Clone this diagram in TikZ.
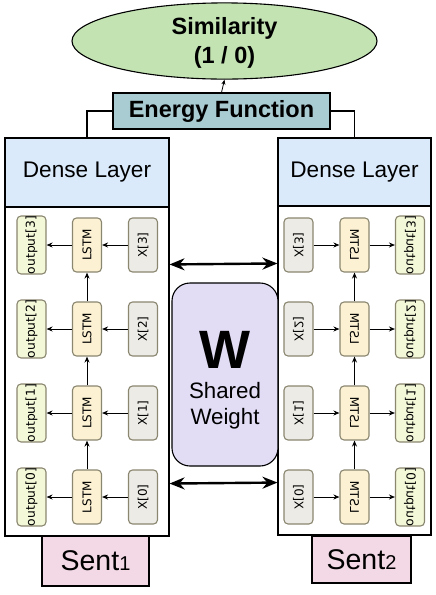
\documentclass[tikz,border=0pt]{standalone}
\usepackage{fontspec}
\setmainfont{Liberation Sans}
\newfontfamily\cellfont{DejaVu Sans}
\usetikzlibrary{arrows.meta,shapes.geometric}
\definecolor{simgreen}{HTML}{C3E3B3}
\definecolor{energyblue}{HTML}{A9CCD3}
\definecolor{denseblue}{HTML}{DAEAFB}
\definecolor{sentpink}{HTML}{F3D9E6}
\definecolor{sharedlilac}{HTML}{E2DCF5}
\definecolor{outfill}{HTML}{F3F8D8}
\definecolor{lstmfill}{HTML}{FCF1D3}
\definecolor{xfill}{HTML}{ECEBE5}
\definecolor{cellline}{HTML}{8A8670}
\tikzset{
	box/.style={draw=black, line width=1.1pt, inner sep=0pt},
	cell/.style={draw=cellline, line width=1.1pt, rounded corners=4pt, rotate=90,
		minimum width=54pt, minimum height=29pt, inner sep=0pt},
	outcell/.style={cell, fill=outfill, font=\cellfont\fontsize{12.3}{14}\selectfont},
	lstmcell/.style={cell, fill=lstmfill, font=\cellfont\fontsize{12}{14}\selectfont},
	xcell/.style={cell, fill=xfill, font=\cellfont\fontsize{12}{14}\selectfont},
	flow/.style={line width=1pt, -{Stealth[length=6pt,width=5pt]}},
	wide/.style={line width=2.4pt, {Stealth[length=15pt,width=12pt]}-{Stealth[length=15pt,width=12pt]}}
}
% one column of four unrolled LSTM steps, centred on x=0
\newcommand{\lstmstack}[1]{%
	\foreach \i in {0,...,3}{
		\node[outcell] (#1out\i) at (-55.5,497-84*\i) {output[\i]};
		\node[lstmcell] (#1lstm\i) at (0,497-84*\i) {LSTM};
		\node[xcell] (#1x\i) at (56,497-84*\i) {X[\i]};
		\draw[flow] (#1x\i) -- (#1lstm\i);
		\draw[flow] (#1lstm\i) -- (#1out\i);
	}
	\foreach \i/\j in {0/1,1/2,2/3}
		\draw[flow] (#1lstm\i) -- (#1lstm\j);
}
\begin{document}
\begin{tikzpicture}[x=1pt, y=-1pt]
	\useasboundingbox (0,0) rectangle (436,595);
	\node[ellipse, draw=black, line width=1.1pt, fill=simgreen, minimum width=305pt, minimum height=72pt, inner sep=0pt, align=center, font=\bfseries\fontsize{23.5}{29}\selectfont] (sim) at (224.5,41) {\rule{0pt}{20pt}Similarity\\(1 / 0)};
	\node[box, fill=energyblue, minimum width=217pt, minimum height=36pt, font=\bfseries\fontsize{23.5}{28}\selectfont] (energy) at (221.5,111) {Energy Function};
	\draw[line width=0.8pt, -{Stealth[length=5pt,width=4pt]}] (energy.north) -- (sim.south);

	% left branch
	\node[box, fill=denseblue, minimum width=164pt, minimum height=69pt, font=\fontsize{22.6}{26}\selectfont] (dense1) at (87,172.5) {Dense Layer};
	\node[box, minimum width=164pt, minimum height=329pt] (panel1) at (87,371.5) {};
	\node[box, fill=sentpink, minimum width=107pt, minimum height=50pt, font=\fontsize{28.5}{32}\selectfont] (sent1) at (95.5,561) {Sent{\fontsize{20}{24}\selectfont 1}};
	\begin{scope}[shift={(87,0)}]
		\lstmstack{l}
	\end{scope}

	% right branch, mirrored
	\node[box, fill=denseblue, minimum width=153pt, minimum height=68pt, font=\fontsize{22.6}{26}\selectfont] (dense2) at (354.5,172) {Dense Layer};
	\node[box, minimum width=153pt, minimum height=329pt] (panel2) at (354.5,370.5) {};
	\node[box, fill=sentpink, minimum width=99pt, minimum height=47pt, font=\fontsize{28.5}{32}\selectfont] (sent2) at (361.5,559.5) {Sent{\fontsize{20}{24}\selectfont 2}};
	\begin{scope}[shift={(354.5,0)}, xscale=-1, transform shape]
		\lstmstack{r}
	\end{scope}

	\draw[line width=1.1pt] (energy.west) -| (dense1.north);
	\draw[line width=1.1pt] (energy.east) -| (dense2.north);

	% shared weights
	\node[draw=black, line width=1.1pt, fill=sharedlilac, rounded corners=18pt, minimum width=106pt, minimum height=183pt, inner sep=0pt, align=center, font=\fontsize{22.3}{26}\selectfont] (shared) at (225,374.5) {{\bfseries\fontsize{54}{54}\selectfont\rule{0pt}{49pt}W}\\[4pt]Shared\\Weight};
	\draw[wide] ([yshift=-58pt]panel1.north east) -- ([yshift=-58pt]panel2.north west);
	\draw[wide] ([yshift=53pt]panel1.south east) -- ([yshift=53pt]panel2.south west);
\end{tikzpicture}
\end{document}
